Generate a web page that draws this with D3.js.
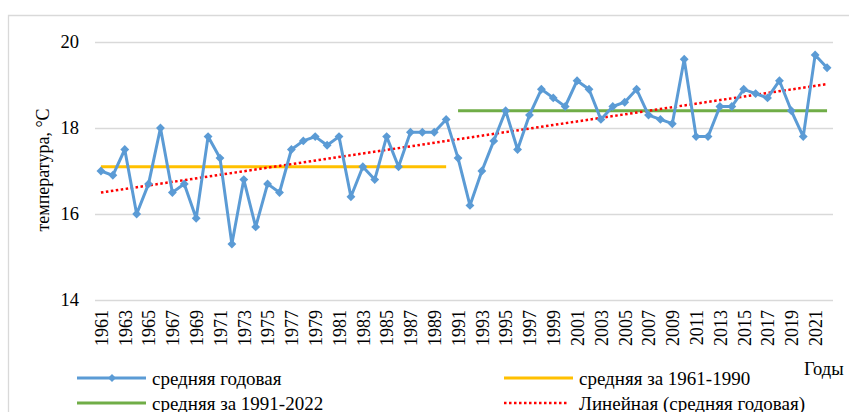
<!DOCTYPE html>
<html>
<head>
<meta charset="utf-8">
<script src="https://cdn.jsdelivr.net/npm/d3@7"></script>
<style>
  html, body { margin: 0; padding: 0; background: #fff; }
  svg { display: block; font-family: "Liberation Serif", "Times New Roman", serif; }
</style>
</head>
<body>
<svg id="chart" width="849" height="412"></svg>
<script>
// Average annual temperature, °C, 1961–2022
const years = d3.range(1961, 2023);
const annualMean = [
  17.0, 16.9, 17.5, 16.0, 16.7, 18.0, 16.5, 16.7, 15.9, 17.8,
  17.3, 15.3, 16.8, 15.7, 16.7, 16.5, 17.5, 17.7, 17.8, 17.6,
  17.8, 16.4, 17.1, 16.8, 17.8, 17.1, 17.9, 17.9, 17.9, 18.2,
  17.3, 16.2, 17.0, 17.7, 18.4, 17.5, 18.3, 18.9, 18.7, 18.5,
  19.1, 18.9, 18.2, 18.5, 18.6, 18.9, 18.3, 18.2, 18.1, 19.6,
  17.8, 17.8, 18.5, 18.5, 18.9, 18.8, 18.7, 19.1, 18.4, 17.8,
  19.7, 19.4
];
// Climate normals for the two periods
const normalPeriods = [
  { from: 1961, to: 1990, value: 17.1 },
  { from: 1991, to: 2022, value: 18.4 }
];
const yTicks = [14, 16, 18, 20];
const xTickYears = years.filter(y => (y - 1961) % 2 === 0);

const legendLabels = [
  "средняя годовая",
  "средняя за 1961-1990",
  "средняя за 1991-2022",
  "Линейная (средняя годовая)"
];
const yTitle = "температура, °C";
const xTitle = "Годы";

const colors = { annual: "#5b9bd5", p1: "#ffc000", p2: "#70ad47", trend: "#ff0000", grid: "#d9d9d9" };

const svg = d3.select("#chart");

// chart frame
svg.append("path")
  .attr("d", "M8.5,412 V15.5 H849")
  .attr("fill", "none").attr("stroke", colors.grid).attr("stroke-width", 1.3);

const x = d3.scalePoint().domain(years).range([95, 833]).padding(0.5);
const y = d3.scaleLinear().domain([14, 20]).range([300, 42]);

// horizontal gridlines + value labels
const yAxis = d3.axisLeft(y).tickValues(yTicks).tickSize(-(833 - 95)).tickPadding(16).tickFormat(d3.format("d"));
const gy = svg.append("g").attr("transform", "translate(95,0)").call(yAxis);
gy.select(".domain").remove();
gy.selectAll(".tick line").attr("stroke", colors.grid).attr("stroke-width", 1.4);
gy.selectAll(".tick text").attr("font-size", 18.5).attr("fill", "#000")
  .attr("font-family", "Liberation Serif, Times New Roman, serif");

// year labels, every second year
const xAxis = d3.axisBottom(x).tickValues(xTickYears).tickSize(0).tickPadding(0);
const gx = svg.append("g").attr("transform", "translate(0,300)").call(xAxis);
gx.select(".domain").remove();
gx.selectAll(".tick text")
  .attr("font-size", 18).attr("fill", "#000")
  .attr("font-family", "Liberation Serif, Times New Roman, serif")
  .attr("text-anchor", "end")
  .attr("transform", "rotate(-90)")
  .attr("x", -10).attr("y", 0).attr("dy", "0.35em");

// period normals
normalPeriods.forEach((p, i) => {
  svg.append("line")
    .attr("x1", x(p.from)).attr("x2", x(p.to))
    .attr("y1", y(p.value)).attr("y2", y(p.value))
    .attr("stroke", i === 0 ? colors.p1 : colors.p2).attr("stroke-width", 3);
});

// least-squares linear trend of the annual series
const n = years.length;
const mx = d3.mean(years), my = d3.mean(annualMean);
const slope = d3.sum(years, (yr, i) => (yr - mx) * (annualMean[i] - my)) / d3.sum(years, yr => (yr - mx) ** 2);
const icpt = my - slope * mx;
svg.append("line")
  .attr("x1", x(years[0])).attr("x2", x(years[n - 1]))
  .attr("y1", y(icpt + slope * years[0])).attr("y2", y(icpt + slope * years[n - 1]))
  .attr("stroke", colors.trend).attr("stroke-width", 2.5)
  .attr("stroke-dasharray", "2.5,2.5");

// annual series
const line = d3.line().x((d, i) => x(years[i])).y(d => y(d));
svg.append("path").datum(annualMean)
  .attr("d", line).attr("fill", "none")
  .attr("stroke", colors.annual).attr("stroke-width", 3).attr("stroke-linejoin", "round");

const diamond = d3.symbol().type(d3.symbolDiamond2).size(50);
svg.append("g").selectAll("path").data(annualMean).join("path")
  .attr("d", diamond)
  .attr("transform", (d, i) => `translate(${x(years[i])},${y(d)})`)
  .attr("fill", colors.annual);

// axis titles
svg.append("text")
  .attr("transform", "translate(43,170) rotate(-90)")
  .attr("text-anchor", "middle").attr("dy", "0.35em")
  .attr("font-size", 18).text(yTitle);
svg.append("text")
  .attr("x", 804).attr("y", 369).attr("dy", "0.35em")
  .attr("font-size", 18.5).text(xTitle);

// legend
const legendItems = [
  { label: legendLabels[0], color: colors.annual, x: 77, y: 378, marker: true },
  { label: legendLabels[1], color: colors.p1, x: 504, y: 378 },
  { label: legendLabels[2], color: colors.p2, x: 77, y: 403 },
  { label: legendLabels[3], color: colors.trend, x: 504, y: 403, dotted: true }
];
const lg = svg.append("g").selectAll("g").data(legendItems).join("g")
  .attr("transform", d => `translate(${d.x},${d.y})`);
lg.append("line")
  .attr("x1", 0).attr("x2", d => d.dotted ? 65 : 69)
  .attr("stroke", d => d.color)
  .attr("stroke-width", d => d.dotted ? 2.5 : 3)
  .attr("stroke-dasharray", d => d.dotted ? "2.5,2.5" : null);
lg.filter(d => d.marker).append("path")
  .attr("d", d3.symbol().type(d3.symbolDiamond2).size(40))
  .attr("transform", "translate(35,0)")
  .attr("fill", d => d.color);
lg.append("text")
  .attr("x", 75).attr("dy", "0.35em")
  .attr("font-size", 19).text(d => d.label);
</script>
</body>
</html>
